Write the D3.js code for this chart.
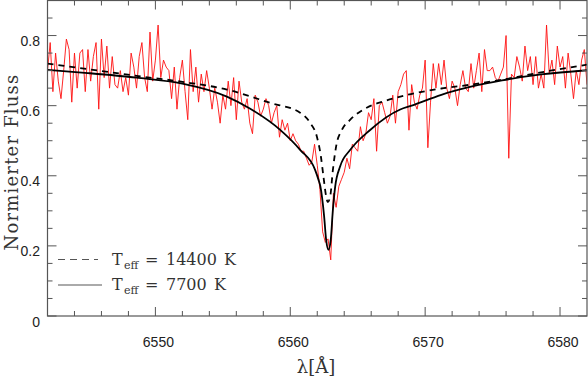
<!DOCTYPE html>
<html lang="de">
<head>
<meta charset="UTF-8">
<title>H-alpha Profil</title>
<script src="https://d3js.org/d3.v7.min.js"></script>
<style>
  body { margin: 0; background: #fff; }
  svg { display: block; }
  .tick-label { font-family: "Liberation Sans", Arial, sans-serif; font-size: 14px; fill: #222; }
  .serif { font-family: "DejaVu Serif", "Liberation Serif", serif; fill: #333; }
</style>
</head>
<body>
<svg id="chart" width="588" height="378"></svg>
<script>
// observed spectrum, sampled every 0.2 A starting at 6542 A
const specStart = 6542, specStep = 0.2;
const specFlux = [
  0.70,0.78,0.64,0.75,0.67,0.62,0.70,0.79,0.76,0.61,0.75,0.65,0.75,0.76,0.64,0.76,0.67,
  0.74,0.78,0.59,0.79,0.68,0.77,0.65,0.74,0.66,0.65,0.70,0.64,0.68,0.63,0.75,0.71,0.65,
  0.74,0.78,0.68,0.64,0.81,0.67,0.73,0.83,0.68,0.73,0.71,0.70,0.62,0.71,0.59,0.68,0.73,
  0.64,0.56,0.76,0.64,0.71,0.61,0.69,0.64,0.70,0.65,0.59,0.65,0.61,0.55,0.63,0.59,
  0.67,0.60,0.68,0.56,0.67,0.61,0.59,0.62,0.55,0.52,0.63,0.61,0.57,0.59,0.62,0.60,0.55,
  0.58,0.60,0.51,0.56,0.53,0.55,0.50,0.52,0.50,0.49,0.47,0.47,0.45,0.43,0.44,0.49,
  0.43,0.36,0.24,0.21,0.22,0.16,0.35,0.31,0.37,0.39,0.41,0.45,0.42,0.49,0.48,0.47,0.54,
  0.50,0.52,0.58,0.56,0.62,0.47,0.60,0.61,0.58,0.55,0.57,0.63,0.55,0.64,0.66,0.69,0.70,
  0.53,0.66,0.61,0.59,0.63,0.65,0.73,0.48,0.61,0.72,0.65,0.72,0.66,0.73,0.65,0.62,0.67,
  0.65,0.60,0.66,0.70,0.65,0.64,0.72,0.65,0.70,0.75,0.64,0.76,0.70,0.70,0.71,0.68,
  0.67,0.69,0.71,0.80,0.45,0.69,0.68,0.74,0.71,0.67,0.77,0.70,0.74,0.66,0.74,0.65,0.69,
  0.65,0.83,0.69,0.73,0.66,0.77,0.71,0.74,0.65,0.75,0.69,0.62,0.70,0.66,0.73,0.76,0.66
];

// model, Teff = 14400 K (dashed)
const hotWave = [6542, 6545, 6548.6, 6552, 6555.3, 6558.5, 6560.73, 6561.47, 6561.97, 6562.27,
  6562.46, 6562.66, 6562.78, 6562.96, 6563.16, 6563.4, 6563.83, 6564.45, 6565.7, 6566.9,
  6568.7, 6571.2, 6573.4, 6575.7, 6578.6, 6582];
const hotFlux = [0.720, 0.704, 0.685, 0.668, 0.646, 0.608, 0.580, 0.551, 0.512, 0.455,
  0.398, 0.341, 0.325, 0.341, 0.417, 0.484, 0.531, 0.560, 0.595, 0.612,
  0.631, 0.649, 0.660, 0.674, 0.695, 0.717];

// model, Teff = 7700 K (solid)
const coolWave = [6542, 6545, 6548.6, 6552, 6555.3, 6557.0, 6559.25, 6560.73, 6561.84, 6562.09,
  6562.23, 6562.51, 6562.66, 6562.83, 6563.0, 6563.16, 6563.33, 6563.7, 6564.45, 6565.9,
  6568.15, 6569.0, 6571.2, 6573.4, 6575.7, 6578.6, 6582];
const coolFlux = [0.702, 0.693, 0.680, 0.663, 0.626, 0.592, 0.531, 0.474, 0.417, 0.389,
  0.370, 0.284, 0.217, 0.189, 0.217, 0.303, 0.369, 0.427, 0.474, 0.530,
  0.589, 0.600, 0.631, 0.654, 0.672, 0.689, 0.701];

const xTicks = [6550, 6560, 6570, 6580];
const xTickLabels = ["6550", "6560", "6570", "6580"];
const yTicks = [0, 0.2, 0.4, 0.6, 0.8];
const yTickLabels = ["0", "0.2", "0.4", "0.6", "0.8"];
const legendTemps = ["14400", "7700"];

const svg = d3.select("#chart");
const pL = 47.5, pR = 587, pT = 0.5, pB = 316;

const x = d3.scaleLinear().domain([6542, 6582]).range([pL, pR]);
const y = d3.scaleLinear().domain([0, 0.9]).range([pB, pT]);

svg.append("clipPath").attr("id", "plot")
  .append("rect").attr("x", pL).attr("y", pT)
  .attr("width", pR - pL).attr("height", pB - pT);

const spec = specFlux.map((f, i) => [specStart + i * specStep, f]);
const hot = hotWave.map((w, i) => [w, hotFlux[i]]);
const cool = coolWave.map((w, i) => [w, coolFlux[i]]);

const line = d3.line().x(d => x(d[0])).y(d => y(d[1]));
const smooth = d3.line().curve(d3.curveMonotoneX).x(d => x(d[0])).y(d => y(d[1]));

const g = svg.append("g").attr("clip-path", "url(#plot)");
g.append("path").datum(spec).attr("d", line)
  .attr("fill", "none").attr("stroke", "#ff1010").attr("stroke-width", 0.9)
  .attr("stroke-linejoin", "round");
g.append("path").datum(cool).attr("d", smooth)
  .attr("fill", "none").attr("stroke", "#000").attr("stroke-width", 1.8);
g.append("path").datum(hot).attr("d", smooth)
  .attr("fill", "none").attr("stroke", "#000").attr("stroke-width", 1.8)
  .attr("stroke-dasharray", "6,5");

// frame and inward ticks on all four sides
const axisCol = "#555";
svg.append("rect").attr("x", pL).attr("y", pT)
  .attr("width", pR - pL).attr("height", pB - pT)
  .attr("fill", "none").attr("stroke", axisCol).attr("stroke-width", 1.2);

const xMinor = d3.range(6544, 6582, 2).filter(v => !xTicks.includes(v));
const yMinor = d3.range(1, 18).map(i => i * 0.05).filter(v => !yTicks.some(t => Math.abs(t - v) < 1e-6));

const tickG = svg.append("g").attr("stroke", axisCol).attr("stroke-width", 1);
function xTick(v, len) {
  tickG.append("line").attr("x1", x(v)).attr("x2", x(v)).attr("y1", pB).attr("y2", pB - len);
  tickG.append("line").attr("x1", x(v)).attr("x2", x(v)).attr("y1", pT).attr("y2", pT + len);
}
function yTick(v, len) {
  tickG.append("line").attr("y1", y(v)).attr("y2", y(v)).attr("x1", pL).attr("x2", pL + len);
  tickG.append("line").attr("y1", y(v)).attr("y2", y(v)).attr("x1", pR).attr("x2", pR - len);
}
xTicks.forEach(v => xTick(v, 9));
xMinor.forEach(v => xTick(v, 5));
yTicks.forEach(v => yTick(v, 9));
yMinor.forEach(v => yTick(v, 5));

svg.selectAll(".xl").data(xTicks).enter().append("text")
  .attr("class", "tick-label").attr("text-anchor", "middle")
  .attr("x", d => x(d) + 3).attr("y", pB + 31)
  .text((d, i) => xTickLabels[i]);

svg.selectAll(".yl").data(yTicks).enter().append("text")
  .attr("class", "tick-label").attr("text-anchor", "end")
  .attr("x", pL - 7.5).attr("y", d => y(d) + 10.5)
  .text((d, i) => yTickLabels[i]);

// axis titles
svg.append("text").attr("class", "serif")
  .attr("transform", "translate(18,162) rotate(-90)")
  .attr("text-anchor", "middle").attr("font-size", 18).attr("letter-spacing", 1.2)
  .text("Normierter Fluss");

svg.append("text").attr("class", "serif")
  .attr("x", 316).attr("y", 373).attr("text-anchor", "middle").attr("font-size", 18)
  .text("λ[Å]");

// legend
const legY = [259.5, 285];
svg.append("line").attr("x1", 58).attr("x2", 98).attr("y1", legY[0]).attr("y2", legY[0])
  .attr("stroke", "#555").attr("stroke-width", 1.2).attr("stroke-dasharray", "7,5");
svg.append("line").attr("x1", 58).attr("x2", 102).attr("y1", legY[1]).attr("y2", legY[1])
  .attr("stroke", "#aaa").attr("stroke-width", 1.8);

legendTemps.forEach((t, i) => {
  const txt = svg.append("text").attr("class", "serif").attr("font-size", 16)
    .attr("y", legY[i] + 5);
  txt.append("tspan").attr("x", 112).text("T");
  txt.append("tspan").attr("x", 124).attr("dy", 4).attr("font-size", 11).text("eff");
  txt.append("tspan").attr("x", 145).attr("dy", -4).text("=");
  txt.append("tspan").attr("x", 166).text(t);
  txt.append("tspan").attr("x", i === 0 ? 224 : 214).text("K");
});
</script>
</body>
</html>
